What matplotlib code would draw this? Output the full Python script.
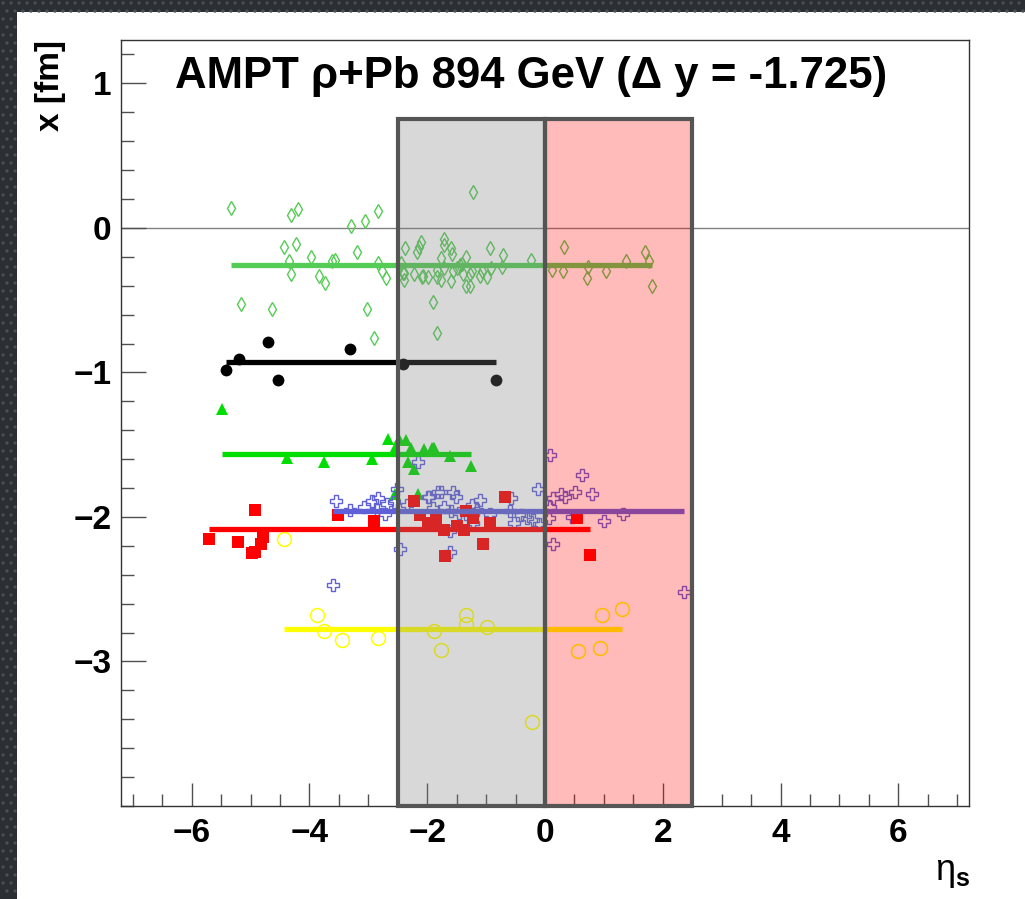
import numpy as np
import matplotlib
matplotlib.use("Agg")
import matplotlib.pyplot as plt
from matplotlib.patches import Rectangle
from matplotlib import font_manager as fm

# ---------------- data ----------------
title = "AMPT ρ+Pb 894 GeV (Δ y = -1.725)"
xlabel = r"$\eta_{\mathbf{s}}$"
ylabel = "x [fm]"

# green open diamonds
diam_x = [-5.34, -4.32, -4.20, -4.43, -4.23, -4.35, -4.31, -3.98, -3.83, -3.73,
          -3.62, -3.56, -3.29, -3.06, -2.83, -3.19, -2.83, -2.76, -2.70, -5.16,
          -4.64, -3.02, -2.90, -2.38, -2.17, -2.40, -2.40, -2.23, -1.23, -2.14,
          -2.10, -1.72, -1.72, -1.59, -1.58, -1.77, -1.34, -0.94, -0.72, -0.24,
          -2.09, -2.07, -1.99, -1.84, -1.83, -1.77, -1.72, -1.60, -1.56, -1.50,
          -1.44, -1.41, -1.40, -1.35, -1.27, -1.27, -1.24, -1.11, -1.07, -0.98,
          -0.92, -0.73, -1.91, -1.83, -2.44, -2.41, 0.32, 0.12, 0.31, 0.71,
          0.73, 1.04, 1.38, 1.70, 1.76, 1.81]
diam_y = [0.14, 0.09, 0.13, -0.13, -0.11, -0.23, -0.32, -0.20, -0.33, -0.38,
          -0.23, -0.22, 0.01, 0.05, 0.12, -0.17, -0.24, -0.30, -0.35, -0.53,
          -0.56, -0.56, -0.76, -0.14, -0.17, -0.31, -0.36, -0.32, 0.25, -0.13,
          -0.10, -0.08, -0.12, -0.14, -0.18, -0.21, -0.20, -0.14, -0.19, -0.22,
          -0.34, -0.33, -0.34, -0.29, -0.34, -0.36, -0.28, -0.37, -0.30, -0.28,
          -0.26, -0.25, -0.32, -0.40, -0.40, -0.32, -0.30, -0.33, -0.30, -0.34,
          -0.28, -0.27, -0.51, -0.73, -0.24, -0.31, -0.13, -0.29, -0.30, -0.35,
          -0.27, -0.30, -0.23, -0.17, -0.23, -0.40]
diam_mean = -0.255

# black filled circles
circ_x = [-5.41, -5.19, -4.71, -4.54, -3.31, -2.41, -0.83]
circ_y = [-0.98, -0.91, -0.79, -1.05, -0.84, -0.94, -1.05]
circ_mean = -0.925

# green filled triangles
tri_x = [-5.49, -4.38, -3.75, -2.93, -2.66, -2.48, -2.36, -2.54, -2.27, -2.06,
         -1.89, -2.33, -2.23, -2.16, -2.54, -1.92, -1.88, -1.61, -1.26]
tri_y = [-1.25, -1.59, -1.62, -1.60, -1.46, -1.46, -1.47, -1.52, -1.52, -1.53,
         -1.52, -1.62, -1.67, -1.84, -1.84, -1.52, -1.52, -1.58, -1.65]
tri_mean = -1.565

# blue open crosses
cross_x = [-3.55, -3.31, -3.08, -2.94, -2.83, -2.85, -2.71, -2.68, -2.57, -2.51,
           -2.47, -2.16, -2.34, -1.98, -1.81, -3.60, -1.97, -1.76, -1.56, -1.51,
           -1.72, -1.91, -1.60, -1.46, -1.24, -1.10, -1.16, -1.34, -1.23, -1.61,
           -1.61, -0.94, -0.58, -0.59, -0.53, -0.41, -0.31, -0.21, -0.12, -0.11,
           0.085, 0.62, 0.14, 0.28, 0.34, 0.51, 0.79, 0.085, 0.07, 0.46,
           1.00, 1.33, 0.14, 2.36]
cross_y = [-1.89, -1.95, -1.93, -1.89, -1.87, -1.95, -1.98, -1.91, -1.90, -1.81,
           -2.22, -1.62, -1.92, -1.86, -1.83, -2.47, -1.86, -1.83, -1.83, -1.86,
           -1.93, -1.94, -1.96, -1.97, -1.92, -1.88, -1.95, -1.98, -2.04, -2.10,
           -2.24, -1.98, -1.87, -1.96, -2.04, -1.99, -2.01, -2.02, -1.81, -2.05,
           -1.57, -1.71, -1.87, -1.84, -1.86, -1.83, -1.84, -1.93, -2.01, -2.00,
           -2.03, -1.98, -2.19, -2.52]
cross_mean = -1.96

# red filled squares
sq_x = [-5.71, -5.22, -4.93, -4.97, -4.92, -4.83, -4.79, -3.52, -2.91, -2.23,
        -2.12, -1.98, -1.85, -1.72, -1.50, -1.38, -1.34, -1.22, -1.69, -1.05,
        -0.93, -0.68, 0.54, 0.77, -1.89]
sq_y = [-2.15, -2.17, -1.95, -2.25, -2.24, -2.19, -2.14, -1.99, -2.03, -1.89,
        -1.99, -2.04, -2.02, -2.09, -2.06, -2.09, -1.96, -2.01, -2.27, -2.19,
        -2.04, -1.86, -2.01, -2.26, -2.06]
sq_mean = -2.08

# yellow open circles
ocirc_x = [-4.43, -3.88, -3.76, -3.45, -2.84, -1.88, -1.76, -1.34, -1.34, -0.99,
           -0.22, 0.56, 0.93, 0.97, 1.31]
ocirc_y = [-2.15, -2.68, -2.79, -2.85, -2.84, -2.79, -2.92, -2.68, -2.74, -2.76,
           -3.42, -2.93, -2.91, -2.68, -2.64]
ocirc_mean = -2.775

# shaded windows
gray_win = (-2.5, 0.0)
red_win = (0.0, 2.5)
win_top = 0.75

xlim = (-7.2, 7.2)
ylim = (-4.0, 1.3)

# ---------------- styling ----------------
W, H, DPI = 1025, 899, 100
names = {f.name for f in fm.fontManager.ttflist}
base_font = "Liberation Sans" if "Liberation Sans" in names else "DejaVu Sans"
plt.rcParams["font.family"] = [base_font, "DejaVu Sans"]
plt.rcParams["mathtext.fontset"] = "custom"
plt.rcParams["mathtext.rm"] = base_font
plt.rcParams["mathtext.it"] = base_font
plt.rcParams["mathtext.bf"] = base_font + ":bold"

fig = plt.figure(figsize=(W / DPI, H / DPI), dpi=DPI)
fig.patch.set_facecolor("white")

# decorative dark border (left & top)
bg = fig.add_axes([0, 0, 1, 1], zorder=-5)
bg.set_xlim(0, W)
bg.set_ylim(H, 0)
bg.axis("off")
bg.add_patch(Rectangle((0, 0), 17, H, facecolor="#2b2e33", edgecolor="none"))
bg.add_patch(Rectangle((0, 0), W, 12, facecolor="#2b2e33", edgecolor="none"))
dx = []
dy = []
for j, yy in enumerate(np.arange(3, H, 8)):
    off = 4 if j % 2 else 0
    for xx in np.arange(3 + off, 17, 8):
        dx.append(xx); dy.append(yy)
for j, yy in enumerate(np.arange(3, 12, 8)):
    off = 4 if j % 2 else 0
    for xx in np.arange(19 + off, W, 8):
        dx.append(xx); dy.append(yy)
bg.scatter(dx, dy, s=6, color="#4a4e56", edgecolors="none")

ax = fig.add_axes([121 / W, 1 - 806 / H, (969 - 121) / W, (806 - 40) / H])
ax.set_xlim(*xlim)
ax.set_ylim(*ylim)

# zero line
ax.axhline(0, color="#808080", lw=1.0, zorder=1)

series = [
    (diam_x, diam_y, diam_mean, "#55cc55", dict(marker="d", ms=7.5, mfc="none", mew=1.0)),
    (circ_x, circ_y, circ_mean, "#000000", dict(marker="o", ms=8.5, mfc="#000000", mew=0)),
    (tri_x, tri_y, tri_mean, "#00dd00", dict(marker="^", ms=8.5, mfc="#00dd00", mew=0)),
    (cross_x, cross_y, cross_mean, "#6060d8", dict(marker="P", ms=8.5, mfc="none", mew=1.0)),
    (sq_x, sq_y, sq_mean, "#ff0000", dict(marker="s", ms=8, mfc="#ff0000", mew=0)),
    (ocirc_x, ocirc_y, ocirc_mean, "#ffff00", dict(marker="o", ms=10, mfc="none", mew=1.1)),
]
for xs, ys, m, c, mk in series:
    ax.plot(xs, ys, ls="none", color=c, mec=c, zorder=2, **mk)
    ax.plot([min(xs), max(xs)], [m, m], color=c, lw=3.8, solid_capstyle="butt", zorder=3)

# shaded windows on top (translucent)
for (x0, x1), fc in [(gray_win, (0.5, 0.5, 0.5, 0.30)), (red_win, (1.0, 0.0, 0.0, 0.27))]:
    ax.add_patch(Rectangle((x0, ylim[0]), x1 - x0, win_top - ylim[0],
                           facecolor=fc, edgecolor="none", zorder=4))
for (x0, x1) in [gray_win, red_win]:
    ax.add_patch(Rectangle((x0, ylim[0]), x1 - x0, win_top - ylim[0],
                           facecolor="none", edgecolor="#555555", lw=3.0,
                           zorder=5, clip_on=False))

# title inside frame
ax.text(175 / W, 1 - 88 / H, title, transform=fig.transFigure, ha="left",
        va="baseline", fontsize=31.5, fontweight="bold", color="black", zorder=6)

# axes labels
fig.text(50 / W, 1 - 40 / H, ylabel, rotation=90, ha="center", va="top",
         fontsize=24, fontweight="bold")
fig.text(970 / W, 1 - 890 / H, xlabel, ha="right", va="bottom", fontsize=26)

# ticks
ax.set_xticks([-6, -4, -2, 0, 2, 4, 6])
ax.set_xticks(np.arange(-7.0, 7.01, 0.5), minor=True)
ax.set_yticks([-3, -2, -1, 0, 1])
ax.set_yticks(np.arange(-4.0, 1.31, 0.2), minor=True)
ax.tick_params(which="both", direction="in", top=False, right=False,
               color="#505050", width=1.0)
ax.tick_params(axis="x", which="major", length=16.5, pad=9)
ax.tick_params(axis="x", which="minor", length=8.3)
ax.tick_params(axis="y", which="major", length=18, pad=7)
ax.tick_params(axis="y", which="minor", length=9)
for lab in ax.get_xticklabels() + ax.get_yticklabels():
    lab.set_fontsize(24)
    lab.set_fontweight("bold")
for s in ax.spines.values():
    s.set_color("#333333")
    s.set_linewidth(1.0)

fig.savefig("out.png", dpi=DPI)
